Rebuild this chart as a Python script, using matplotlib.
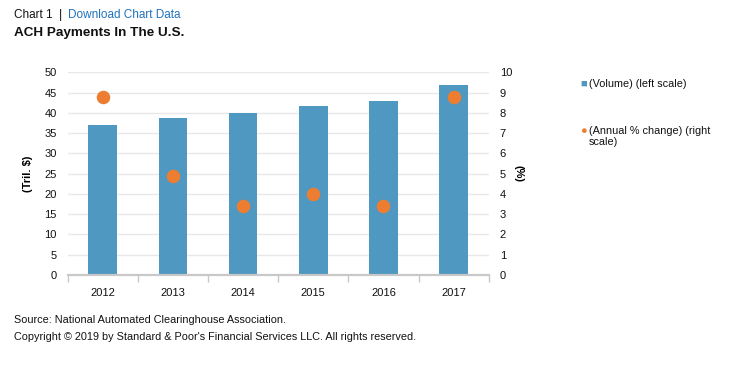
import matplotlib

matplotlib.use("Agg")
import matplotlib.pyplot as plt
import numpy as np

years = ["2012", "2013", "2014", "2015", "2016", "2017"]
volume = [37.0, 38.7, 40.0, 41.7, 42.9, 46.9]
pct_change = [8.8, 4.9, 3.4, 4.0, 3.4, 8.8]

plt.rcParams["font.family"] = ["Liberation Sans", "DejaVu Sans"]

bar_color = "#4f98c1"
dot_color = "#ed7d31"
text_color = "#111111"

fig = plt.figure(figsize=(7.42, 3.66), dpi=100)
ax = fig.add_axes([0.0912, 0.2486, 0.5674, 0.5539])
ax2 = ax.twinx()

x = np.arange(len(years))
ax.bar(x, volume, width=0.41, color=bar_color, zorder=2)
ax2.scatter(x, pct_change, s=95, color=dot_color, zorder=3, linewidths=0)

ax.set_xlim(-0.5, len(years) - 0.5)
ax.set_ylim(0, 50)
ax.set_yticks(np.arange(0, 51, 5))
ax2.set_ylim(0, 10)
ax2.set_yticks(np.arange(0, 11, 1))

ax.set_xticks(x)
ax.set_xticklabels(years)
ax.set_xticks(np.arange(-0.5, len(years), 1), minor=True)
ax.tick_params(axis="x", which="major", length=0, pad=9, labelsize=8, colors=text_color)
ax.tick_params(axis="x", which="minor", length=5, width=1, color="#c8c8c8")
ax.tick_params(axis="y", length=0, pad=8, labelsize=8, colors=text_color)
ax2.tick_params(axis="y", length=0, pad=8, labelsize=8, colors=text_color)

ax.yaxis.grid(True, color="#e8e8e8", linewidth=1, zorder=0)
ax.set_axisbelow(True)
for a in (ax, ax2):
    for side in ("left", "right", "top"):
        a.spines[side].set_visible(False)
    a.spines["bottom"].set_color("#c8c8c8")
    a.spines["bottom"].set_linewidth(1.5)

ax.set_ylabel("(Tril. $)", fontsize=8, fontweight="bold", labelpad=8)
ax2.set_ylabel("(%)", fontsize=8, fontweight="bold", rotation=270, labelpad=8)

fig.text(0.019, 0.96, "Chart 1  |", fontsize=8.5, color=text_color, va="center")
fig.text(0.091, 0.96, "Download Chart Data", fontsize=8.5, color="#1e73be", va="center")
fig.text(0.019, 0.91, "ACH Payments In The U.S.", fontsize=9.7, fontweight="bold", color=text_color, va="center")

# legend drawn by hand to match the wrapped second entry
fig.text(0.782, 0.771, "\u25a0", fontsize=8, color=bar_color, va="center")
fig.text(0.794, 0.771, "(Volume) (left scale)", fontsize=7.8, color=text_color, va="center")
fig.text(0.782, 0.642, "\u25cf", fontsize=8, color=dot_color, va="center")
fig.text(0.794, 0.642, "(Annual % change) (right", fontsize=7.8, color=text_color, va="center")
fig.text(0.794, 0.612, "scale)", fontsize=7.8, color=text_color, va="center")

fig.text(0.019, 0.126, "Source: National Automated Clearinghouse Association.", fontsize=7.8, color=text_color, va="center")
fig.text(0.019, 0.079, "Copyright \u00a9 2019 by Standard & Poor's Financial Services LLC. All rights reserved.", fontsize=7.8, color=text_color, va="center")

fig.savefig("out.png", dpi=100)
plt.close(fig)
